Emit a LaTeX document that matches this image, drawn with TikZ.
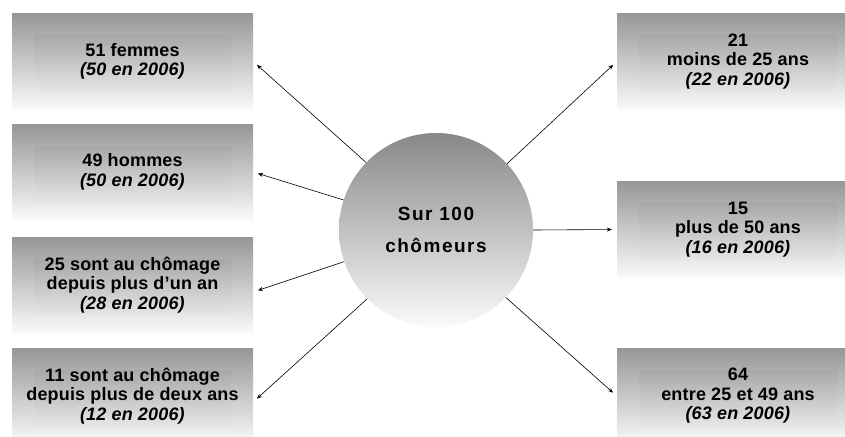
\documentclass[tikz,border=0pt]{standalone}
\usepackage{fontspec}
\setmainfont{Liberation Sans}
\newfontfamily\boxfont{Liberation Sans}[LetterSpace=1]
\newfontfamily\hubfont{Liberation Sans}[LetterSpace=8]
\usetikzlibrary{arrows.meta,positioning,shapes.geometric}
\definecolor{shade}{HTML}{979797}
\definecolor{paper}{HTML}{FAFAFA}

\begin{document}
\begin{tikzpicture}[
  x=1pt, y=-1pt,
  infobox/.style={rectangle, minimum width=241pt, minimum height=96pt,
    top color=shade, bottom color=paper, align=center, inner sep=0pt,
    font=\boxfont\bfseries\fontsize{18}{19.5}\selectfont,
    path picture={\shade[top color=shade!95!black, bottom color=paper]
      ([shift={(22pt,-22pt)}]path picture bounding box.north west) rectangle
      ([shift={(-22pt,20pt)}]path picture bounding box.south east);}},
  hub/.style={circle, minimum size=194pt, inner sep=0pt,
    top color=shade!90!black, bottom color=paper, align=center,
    font=\hubfont\bfseries\fontsize{19}{32}\selectfont},
  link/.style={-{Stealth[length=5pt,width=4pt]}, line width=0.6pt, shorten >=5pt}
]
\useasboundingbox (0,0) rectangle (845,436);
\node[hub] (center) at (436,230) {Sur 100\\chômeurs};
% left side
\node[infobox] (women) at (132.5,61.5) {51 femmes\\\textit{(50 en 2006)}};
\node[infobox] (men) at (132.5,172) {49 hommes\\\textit{(50 en 2006)}};
\node[infobox] (oneyear) at (132.5,285) {25 sont au chômage\\depuis plus d’un an\\\textit{(28 en 2006)}};
\node[infobox] (twoyears) at (132.5,396) {11 sont au chômage\\depuis plus de deux ans\\\textit{(12 en 2006)}};
% right side
\node[infobox, minimum width=242pt] (young) at (738,61.5) {21\\moins de 25 ans\\\textit{(22 en 2006)}};
\node[infobox, minimum width=242pt] (senior) at (738,229.5) {15\\plus de 50 ans\\\textit{(16 en 2006)}};
\node[infobox, minimum width=242pt] (middle) at (738,396) {64\\entre 25 et 49 ans\\\textit{(63 en 2006)}};
\draw[link] (center.136) -- (women.east);
\draw[link] (center.162) -- (men.east);
\draw[link] (center.199) -- ([yshift=-7pt]oneyear.east);
\draw[link] (center.225) -- ([yshift=-6pt]twoyears.east);
\draw[link] (center.43) -- (young.west);
\draw[link] (center.0) -- (senior.west);
\draw[link] (center.-44) -- (middle.west);
\end{tikzpicture}
\end{document}
